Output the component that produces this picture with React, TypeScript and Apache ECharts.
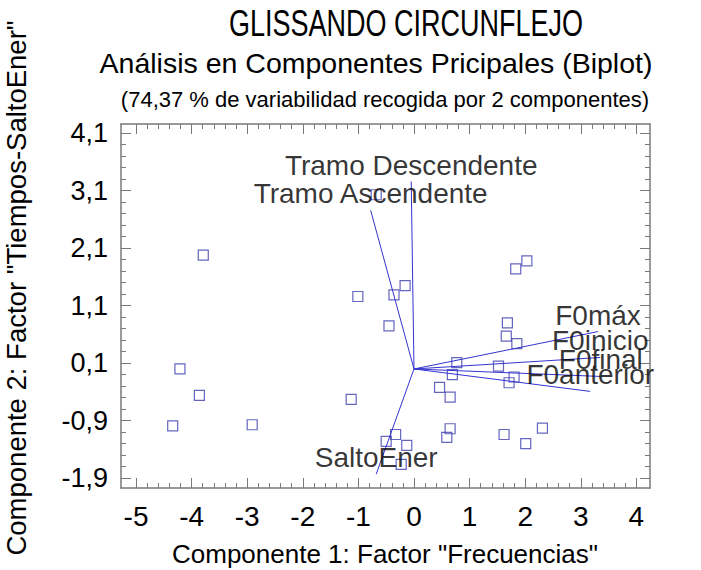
import React, { useEffect, useRef } from "react";
import * as echarts from "echarts";

// ---- data ----
const xTicks = [-5, -4, -3, -2, -1, 0, 1, 2, 3, 4];
const yTicks = [-1.9, -0.9, 0.1, 1.1, 2.1, 3.1, 4.1];
const xRange = [-5.27, 4.245];
const yRange = [-2.07, 4.26];

// observation scores (Componente 1, Componente 2)
const obsX = [
  -3.79, -4.21, -3.86, -4.34, -2.91, -0.68, -1.01, -0.36, -0.16, -0.45, -1.13,
  0.77, 0.69, 0.46, 0.65, 1.52, 2.03, 1.83, 1.68, 1.66, 1.85, 1.8, 1.71, -0.33,
  -0.5, -0.13, -0.23, 0.65, 0.59, 1.62, 2.01, 2.31,
];
const obsY = [
  1.98, 0.0, -0.46, -0.99, -0.97, 3.03, 1.26, 1.29, 1.45, 0.75, -0.53, 0.11,
  -0.1, -0.32, -0.49, 0.05, 1.88, 1.74, 0.8, 0.57, 0.44, -0.14, -0.24, -1.14,
  -1.26, -1.33, -1.66, -1.04, -1.19, -1.14, -1.3, -1.03,
];

// variable loadings (vectors)
const varNames = [
  "Tramo Descendente",
  "Tramo Ascendente",
  "F0máx",
  "F0inicio",
  "F0final",
  "F0anterior",
  "SaltoEner",
];
const varX = [-0.05, -0.78, 3.31, 3.35, 3.36, 3.17, -0.68];
const varY = [3.26, 2.76, 0.65, 0.2, -0.13, -0.39, -1.83];

const titleText = "GLISSANDO CIRCUNFLEJO";
const subtitleText = "Análisis en Componentes Pricipales (Biplot)";
const noteText = "(74,37 % de variabilidad recogida por 2 componentes)";
const xName = 'Componente 1: Factor "Frecuencias"';
const yName = 'Componente 2: Factor "Tiempos-SaltoEner"';

// ---- helpers ----
const FONT = "'Liberation Sans', Arial, sans-serif";
const FRAME = "#7a7a7a";

function subdivide(ticks: number[], n: number): number[] {
  const out: number[] = [];
  for (let i = 0; i < ticks.length - 1; i++) {
    const step = (ticks[i + 1] - ticks[i]) / n;
    for (let k = 1; k < n; k++) out.push(+(ticks[i] + k * step).toFixed(4));
  }
  return out;
}

const fmt = (v: number) => String(+v.toFixed(2)).replace(".", ",");

function axis(
  pos: string,
  range: number[],
  ticks: number[],
  len: number,
  showLine: boolean,
  showLabel: boolean,
  labelSize = 27,
  margin = 12
) {
  return {
    type: "value",
    position: pos,
    min: range[0],
    max: range[1],
    axisLine: { show: showLine, onZero: false, lineStyle: { color: FRAME, width: 1.5 } },
    axisTick: {
      show: true,
      inside: true,
      length: len,
      customValues: ticks,
      lineStyle: { color: FRAME, width: 1 },
    },
    axisLabel: showLabel
      ? {
          show: true,
          customValues: ticks,
          formatter: fmt,
          fontSize: labelSize,
          color: "#000",
          fontFamily: FONT,
          margin,
        }
      : { show: false },
    splitLine: { show: false },
  };
}

export default function App() {
  const ref = useRef<HTMLDivElement>(null);
  useEffect(() => {
    if (!ref.current) return;
    const chart = echarts.init(ref.current, null, { renderer: "svg" });
    const xMinor = subdivide(xTicks, 5);
    const yMinor = subdivide(yTicks, 5);

    const vectorSeries = varNames.map((n, i) => ({
      type: "line",
      name: n,
      data: [
        [0, 0],
        [varX[i], varY[i]],
      ],
      showSymbol: false,
      symbol: "none",
      silent: true,
      lineStyle: { color: "#3434d0", width: 1 },
      z: 3,
    }));

    chart.setOption({
      animation: false,
      grid: { left: 121, top: 124, width: 529, height: 364, containLabel: false },
      xAxis: [
        axis("bottom", xRange, xTicks, 10, true, true, 28, 14),
        axis("top", xRange, xTicks, 10, true, false),
        axis("bottom", xRange, xMinor, 5, false, false),
        axis("top", xRange, xMinor, 5, false, false),
      ],
      yAxis: [
        axis("left", yRange, yTicks, 10, true, true, 27, 13),
        axis("right", yRange, yTicks, 10, true, false),
        axis("left", yRange, yMinor, 5, false, false),
        axis("right", yRange, yMinor, 5, false, false),
      ],
      graphic: [
        {
          type: "text",
          x: 406,
          y: 24,
          scaleX: 0.75,
          style: {
            text: titleText,
            fontSize: 36,
            fontFamily: FONT,
            fill: "#000",
            align: "center",
            verticalAlign: "middle",
          },
        },
        {
          type: "text",
          x: 376,
          y: 63,
          style: {
            text: subtitleText,
            fontSize: 28.5,
            fontFamily: FONT,
            fill: "#000",
            align: "center",
            verticalAlign: "middle",
          },
        },
        {
          type: "text",
          x: 385,
          y: 99,
          style: {
            text: noteText,
            fontSize: 22,
            fontFamily: FONT,
            fill: "#000",
            align: "center",
            verticalAlign: "middle",
          },
        },
        {
          type: "text",
          x: 385,
          y: 554,
          style: {
            text: xName,
            fontSize: 26,
            fontFamily: FONT,
            fill: "#000",
            align: "center",
            verticalAlign: "middle",
          },
        },
        {
          type: "text",
          x: 16,
          y: 288,
          rotation: Math.PI / 2,
          style: {
            text: yName,
            fontSize: 27.5,
            fontFamily: FONT,
            fill: "#000",
            align: "center",
            verticalAlign: "middle",
          },
        },
      ],
      series: [
        ...vectorSeries,
        {
          type: "scatter",
          name: "obs",
          data: obsX.map((x, i) => [x, obsY[i]]),
          symbol: "rect",
          symbolSize: 10,
          itemStyle: { color: "rgba(255,255,255,0)", borderColor: "#3e3eb0", borderWidth: 1.2 },
          silent: true,
          z: 2,
        },
        {
          type: "scatter",
          name: "vars",
          data: varNames.map((n, i) => ({ name: n, value: [varX[i], varY[i]] })),
          symbolSize: 1,
          itemStyle: { color: "rgba(0,0,0,0)" },
          silent: true,
          z: 5,
          label: {
            show: true,
            position: "top",
            distance: 2,
            formatter: "{b}",
            fontSize: 28,
            fontFamily: FONT,
            color: "#000",
          },
        },
      ],
    });
    return () => chart.dispose();
  }, []);
  return (
    <div
      ref={ref}
      style={{ position: "absolute", left: 0, top: 0, width: 701, height: 570 }}
    />
  );
}
